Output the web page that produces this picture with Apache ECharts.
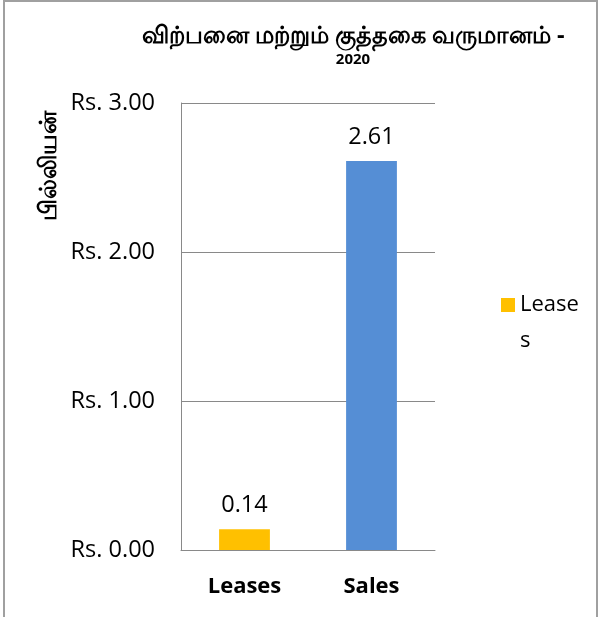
<!DOCTYPE html>
<html>
<head>
<meta charset="utf-8">
<script src="https://cdn.jsdelivr.net/npm/echarts@6/dist/echarts.min.js"></script>
<style>
  html, body { margin: 0; padding: 0; background: #fff; }
  #chart { width: 606px; height: 617px; }
</style>
</head>
<body>
<div id="chart"></div>
<script>
var categories = ['Leases', 'Sales'];
var values = [0.14, 2.61];
var barColors = ['#FFC000', '#558ED5'];
var yTicks = [0, 1, 2, 3];

var font = 'Open Sans, Noto Sans, sans-serif';

var chart = echarts.init(document.getElementById('chart'));
chart.setOption({
    backgroundColor: '#fff',
    title: {
        text: 'விற்பனை மற்றும் குத்தகை வருமானம் -',
        subtext: '2020',
        left: 348,
        top: 19,
        textAlign: 'center',
        itemGap: 4,
        textStyle: {fontSize: 23.5, fontWeight: 'bold', color: '#000', fontFamily: font},
        subtextStyle: {fontSize: 15, fontWeight: 'bold', color: '#000', fontFamily: font}
    },
    legend: {
        data: ['Leases'],
        orient: 'vertical',
        left: 501,
        top: 251,
        padding: 0,
        itemWidth: 14,
        itemHeight: 14,
        icon: 'rect',
        // empty first line so the square sits level with "Lease", wrapped text below
        formatter: function (name) { return '\n' + name; },
        textStyle: {
            fontSize: 22, color: '#000', fontFamily: font,
            width: 62, overflow: 'breakAll', lineHeight: 36
        }
    },
    grid: {left: 181, top: 103, right: 171, bottom: 67},
    xAxis: {
        type: 'category',
        data: categories,
        axisTick: {show: false},
        axisLine: {lineStyle: {color: '#898989', width: 1}},
        axisLabel: {fontSize: 22, fontWeight: 'bold', color: '#000', margin: 26, fontFamily: font}
    },
    yAxis: {
        type: 'value',
        min: yTicks[0],
        max: yTicks[yTicks.length - 1],
        interval: 1,
        axisLine: {show: true, lineStyle: {color: '#898989', width: 1}},
        axisTick: {show: false},
        splitLine: {lineStyle: {color: '#898989', width: 1}},
        axisLabel: {
            fontSize: 23.5, color: '#000', margin: 26, fontFamily: font,
            formatter: function (v) { return 'Rs. ' + v.toFixed(2); }
        }
    },
    graphic: [
        {
            type: 'rect',
            shape: {x: 4, y: 1, width: 593, height: 640},
            style: {fill: 'none', stroke: '#a0a0a0', lineWidth: 2},
            silent: true
        },
        {
            type: 'text',
            x: 49,
            y: 166,
            rotation: Math.PI / 2,
            style: {
                text: 'பில்லியன்',
                fontSize: 24,
                fontWeight: 'bold',
                fill: '#000',
                fontFamily: font,
                align: 'center',
                verticalAlign: 'middle'
            }
        }
    ],
    series: [{
        name: 'Leases',
        type: 'bar',
        barWidth: '40%',
        itemStyle: {color: barColors[0]},
        label: {
            show: true,
            position: 'top',
            distance: 12,
            fontSize: 23.5,
            color: '#000',
            fontFamily: font,
            formatter: function (p) { return p.value.toFixed(2); }
        },
        data: values.map(function (v, i) {
            return {value: v, itemStyle: {color: barColors[i]}};
        })
    }]
});
</script>
</body>
</html>
